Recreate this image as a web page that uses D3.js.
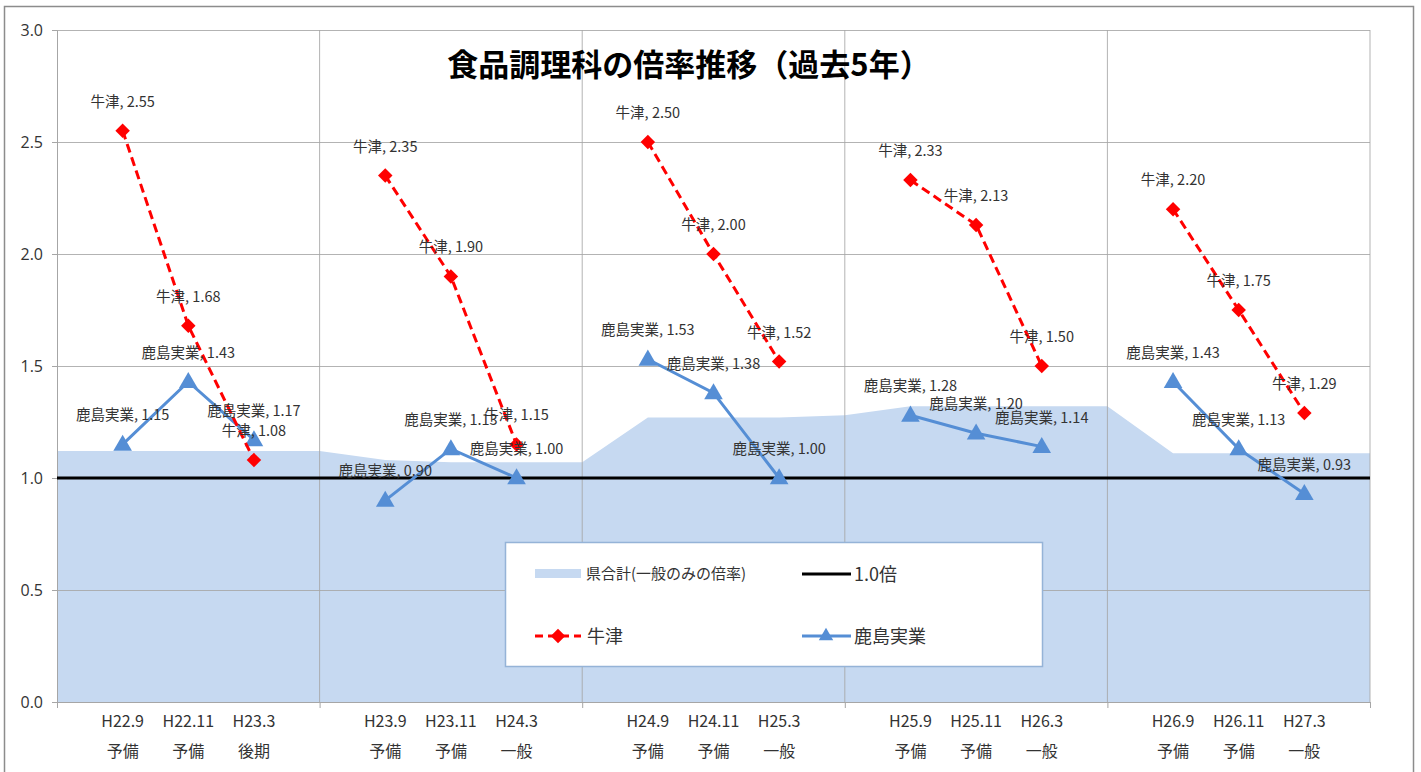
<!DOCTYPE html>
<html>
<head>
<meta charset="utf-8">
<script src="https://cdn.jsdelivr.net/npm/d3@7"></script>
<style>
  html, body { margin: 0; padding: 0; background: #fff; }
  svg { display: block; font-family: "Noto Sans CJK JP", "Noto Sans", sans-serif; }
</style>
</head>
<body>
<svg id="chart" width="1421" height="772"></svg>
<script>
// categories (blank slots separate the years)
var periods = ["", "H22.9", "H22.11", "H23.3", "", "H23.9", "H23.11", "H24.3", "", "H24.9", "H24.11", "H25.3", "",
	"H25.9", "H25.11", "H26.3", "", "H26.9", "H26.11", "H27.3", ""];
var exams = ["", "予備", "予備", "後期", "", "予備", "予備", "一般", "", "予備", "予備", "一般", "",
	"予備", "予備", "一般", "", "予備", "予備", "一般", ""];

// series
var ushizu = [null, 2.55, 1.68, 1.08, null, 2.35, 1.90, 1.15, null, 2.50, 2.00, 1.52, null,
	2.33, 2.13, 1.50, null, 2.20, 1.75, 1.29, null];
var kashima = [null, 1.15, 1.43, 1.17, null, 0.90, 1.13, 1.00, null, 1.53, 1.38, 1.00, null,
	1.28, 1.20, 1.14, null, 1.43, 1.13, 0.93, null];
var kenTotal = [1.12, 1.12, 1.12, 1.12, 1.12, 1.08, 1.07, 1.07, 1.07, 1.27, 1.27, 1.27, 1.28,
	1.32, 1.32, 1.32, 1.32, 1.11, 1.11, 1.11, 1.11];
var baseLevel = 1.0;

var yTicks = [0, 0.5, 1.0, 1.5, 2.0, 2.5, 3.0];
var groupEdges = [0, 4, 8, 12, 16, 20];

var title = "食品調理科の倍率推移（過去5年）";
var legendNames = ["県合計(一般のみの倍率)", "1.0倍", "牛津", "鹿島実業"];

(function () {
	var svg = d3.select("#chart");
	var pLeft = 57, pRight = 1370, pTop = 30, pBottom = 702;

	var idx = d3.range(periods.length);
	var x = d3.scalePoint().domain(idx).range([pLeft, pRight]);
	var y = d3.scaleLinear().domain([0, 3]).range([pBottom, pTop]);

	var red = "#ff0000", blue = "#558ed5", areaFill = "#c6d9f1", grid = "#a6a6a6", txt = "#333333";

	// outer frame
	svg.append("rect")
		.attr("x", 4.5).attr("y", 6.5).attr("width", 1409).attr("height", 780)
		.attr("fill", "#fff").attr("stroke", "#8c8c8c").attr("stroke-width", 1.5);

	// prefecture total area
	svg.append("path")
		.datum(idx)
		.attr("fill", areaFill)
		.attr("d", d3.area().x(function (i) { return x(i); }).y0(y(0)).y1(function (i) { return y(kenTotal[i]); }));

	// gridlines
	svg.append("g")
		.attr("transform", "translate(" + pLeft + ",0)")
		.call(d3.axisLeft(y).tickValues(yTicks).tickSize(-(pRight - pLeft)).tickFormat(""))
		.call(function (g) {
			g.select(".domain").remove();
			g.selectAll("line").attr("stroke", grid).attr("stroke-opacity", 0.85);
		});
	svg.append("g")
		.selectAll("line")
		.data(groupEdges.slice(1))
		.join("line")
		.attr("x1", function (i) { return x(i); }).attr("x2", function (i) { return x(i); })
		.attr("y1", pTop).attr("y2", pBottom)
		.attr("stroke", grid).attr("stroke-opacity", 0.85);

	// y axis
	svg.append("g")
		.attr("transform", "translate(" + pLeft + ",0)")
		.call(d3.axisLeft(y).tickValues(yTicks).tickSize(5).tickPadding(9).tickFormat(d3.format(".1f")))
		.call(function (g) {
			g.select(".domain").attr("stroke", grid);
			g.selectAll("line").attr("stroke", grid);
			g.selectAll("text").attr("fill", txt).style("font-size", "16px")
				.style("font-family", "'Open Sans', 'Noto Sans', sans-serif");
		});

	// x axis
	svg.append("g")
		.attr("transform", "translate(0," + pBottom + ")")
		.call(d3.axisBottom(x).tickValues(groupEdges).tickSize(6).tickFormat(""))
		.call(function (g) {
			g.select(".domain").attr("stroke", grid);
			g.selectAll("line").attr("stroke", grid);
		});
	var xl = svg.append("g").attr("fill", txt).style("font-size", "16px").attr("text-anchor", "middle");
	xl.selectAll("text.p").data(idx.filter(function (i) { return periods[i]; })).join("text")
		.attr("class", "p").attr("x", function (i) { return x(i); }).attr("y", 727).text(function (i) { return periods[i]; });
	xl.selectAll("text.e").data(idx.filter(function (i) { return exams[i]; })).join("text")
		.attr("class", "e").attr("x", function (i) { return x(i); }).attr("y", 757).text(function (i) { return exams[i]; });

	// 1.0 line
	svg.append("line")
		.attr("x1", pLeft).attr("x2", pRight).attr("y1", y(baseLevel)).attr("y2", y(baseLevel))
		.attr("stroke", "#000").attr("stroke-width", 3);

	var line = function (vals) {
		return d3.line().defined(function (i) { return vals[i] != null; })
			.x(function (i) { return x(i); }).y(function (i) { return y(vals[i]); })(idx);
	};

	// kashima
	svg.append("path").attr("d", line(kashima)).attr("fill", "none")
		.attr("stroke", blue).attr("stroke-width", 3);
	var tri = d3.symbol().type(d3.symbolTriangle).size(150);
	svg.append("g").selectAll("path")
		.data(idx.filter(function (i) { return kashima[i] != null; })).join("path")
		.attr("d", tri).attr("fill", blue)
		.attr("transform", function (i) { return "translate(" + x(i) + "," + (y(kashima[i]) + 1) + ")"; });

	// ushizu
	svg.append("path").attr("d", line(ushizu)).attr("fill", "none")
		.attr("stroke", red).attr("stroke-width", 3).attr("stroke-dasharray", "9,5");
	var dia = d3.symbol().type(d3.symbolSquare).size(105);
	svg.append("g").selectAll("path")
		.data(idx.filter(function (i) { return ushizu[i] != null; })).join("path")
		.attr("d", dia).attr("fill", red)
		.attr("transform", function (i) { return "translate(" + x(i) + "," + y(ushizu[i]) + ") rotate(45)"; });

	// data labels
	var drawLabels = function (vals, name) {
		svg.append("g").attr("fill", txt).style("font-size", "14.5px").attr("text-anchor", "middle")
			.selectAll("text")
			.data(idx.filter(function (i) { return vals[i] != null; })).join("text")
			.attr("x", function (i) { return x(i); })
			.attr("y", function (i) { return y(vals[i]) - 24; })
			.text(function (i) { return name + ", " + vals[i].toFixed(2); });
	};
	drawLabels(ushizu, "牛津");
	drawLabels(kashima, "鹿島実業");

	// title
	svg.append("text")
		.attr("x", 689).attr("y", 76).attr("text-anchor", "middle")
		.style("font-size", "31px").style("font-weight", "bold").attr("fill", "#000")
		.text(title);

	// legend
	var lg = svg.append("g");
	lg.append("rect").attr("x", 505.5).attr("y", 542.5).attr("width", 537).attr("height", 124)
		.attr("fill", "#fff").attr("stroke", "#95b3d7").attr("stroke-width", 1.5);
	lg.append("rect").attr("x", 535).attr("y", 569).attr("width", 46).attr("height", 9).attr("fill", areaFill);
	lg.append("text").attr("x", 586).attr("y", 579).attr("fill", txt).style("font-size", "15px").text(legendNames[0]);
	lg.append("line").attr("x1", 802).attr("x2", 851).attr("y1", 574).attr("y2", 574)
		.attr("stroke", "#000").attr("stroke-width", 3);
	lg.append("text").attr("x", 854).attr("y", 581).attr("fill", txt).style("font-size", "18px").text(legendNames[1]);
	lg.append("line").attr("x1", 535).attr("x2", 581).attr("y1", 636).attr("y2", 636)
		.attr("stroke", red).attr("stroke-width", 3).attr("stroke-dasharray", "8,5");
	lg.append("path").attr("d", dia).attr("fill", red).attr("transform", "translate(558,636) rotate(45)");
	lg.append("text").attr("x", 587).attr("y", 643).attr("fill", txt).style("font-size", "18px").text(legendNames[2]);
	lg.append("line").attr("x1", 802).attr("x2", 851).attr("y1", 636).attr("y2", 636)
		.attr("stroke", blue).attr("stroke-width", 3);
	lg.append("path").attr("d", d3.symbol().type(d3.symbolTriangle).size(90)).attr("fill", blue)
		.attr("transform", "translate(826,636)");
	lg.append("text").attr("x", 854).attr("y", 643).attr("fill", txt).style("font-size", "18px").text(legendNames[3]);
})();
</script>
</body>
</html>
